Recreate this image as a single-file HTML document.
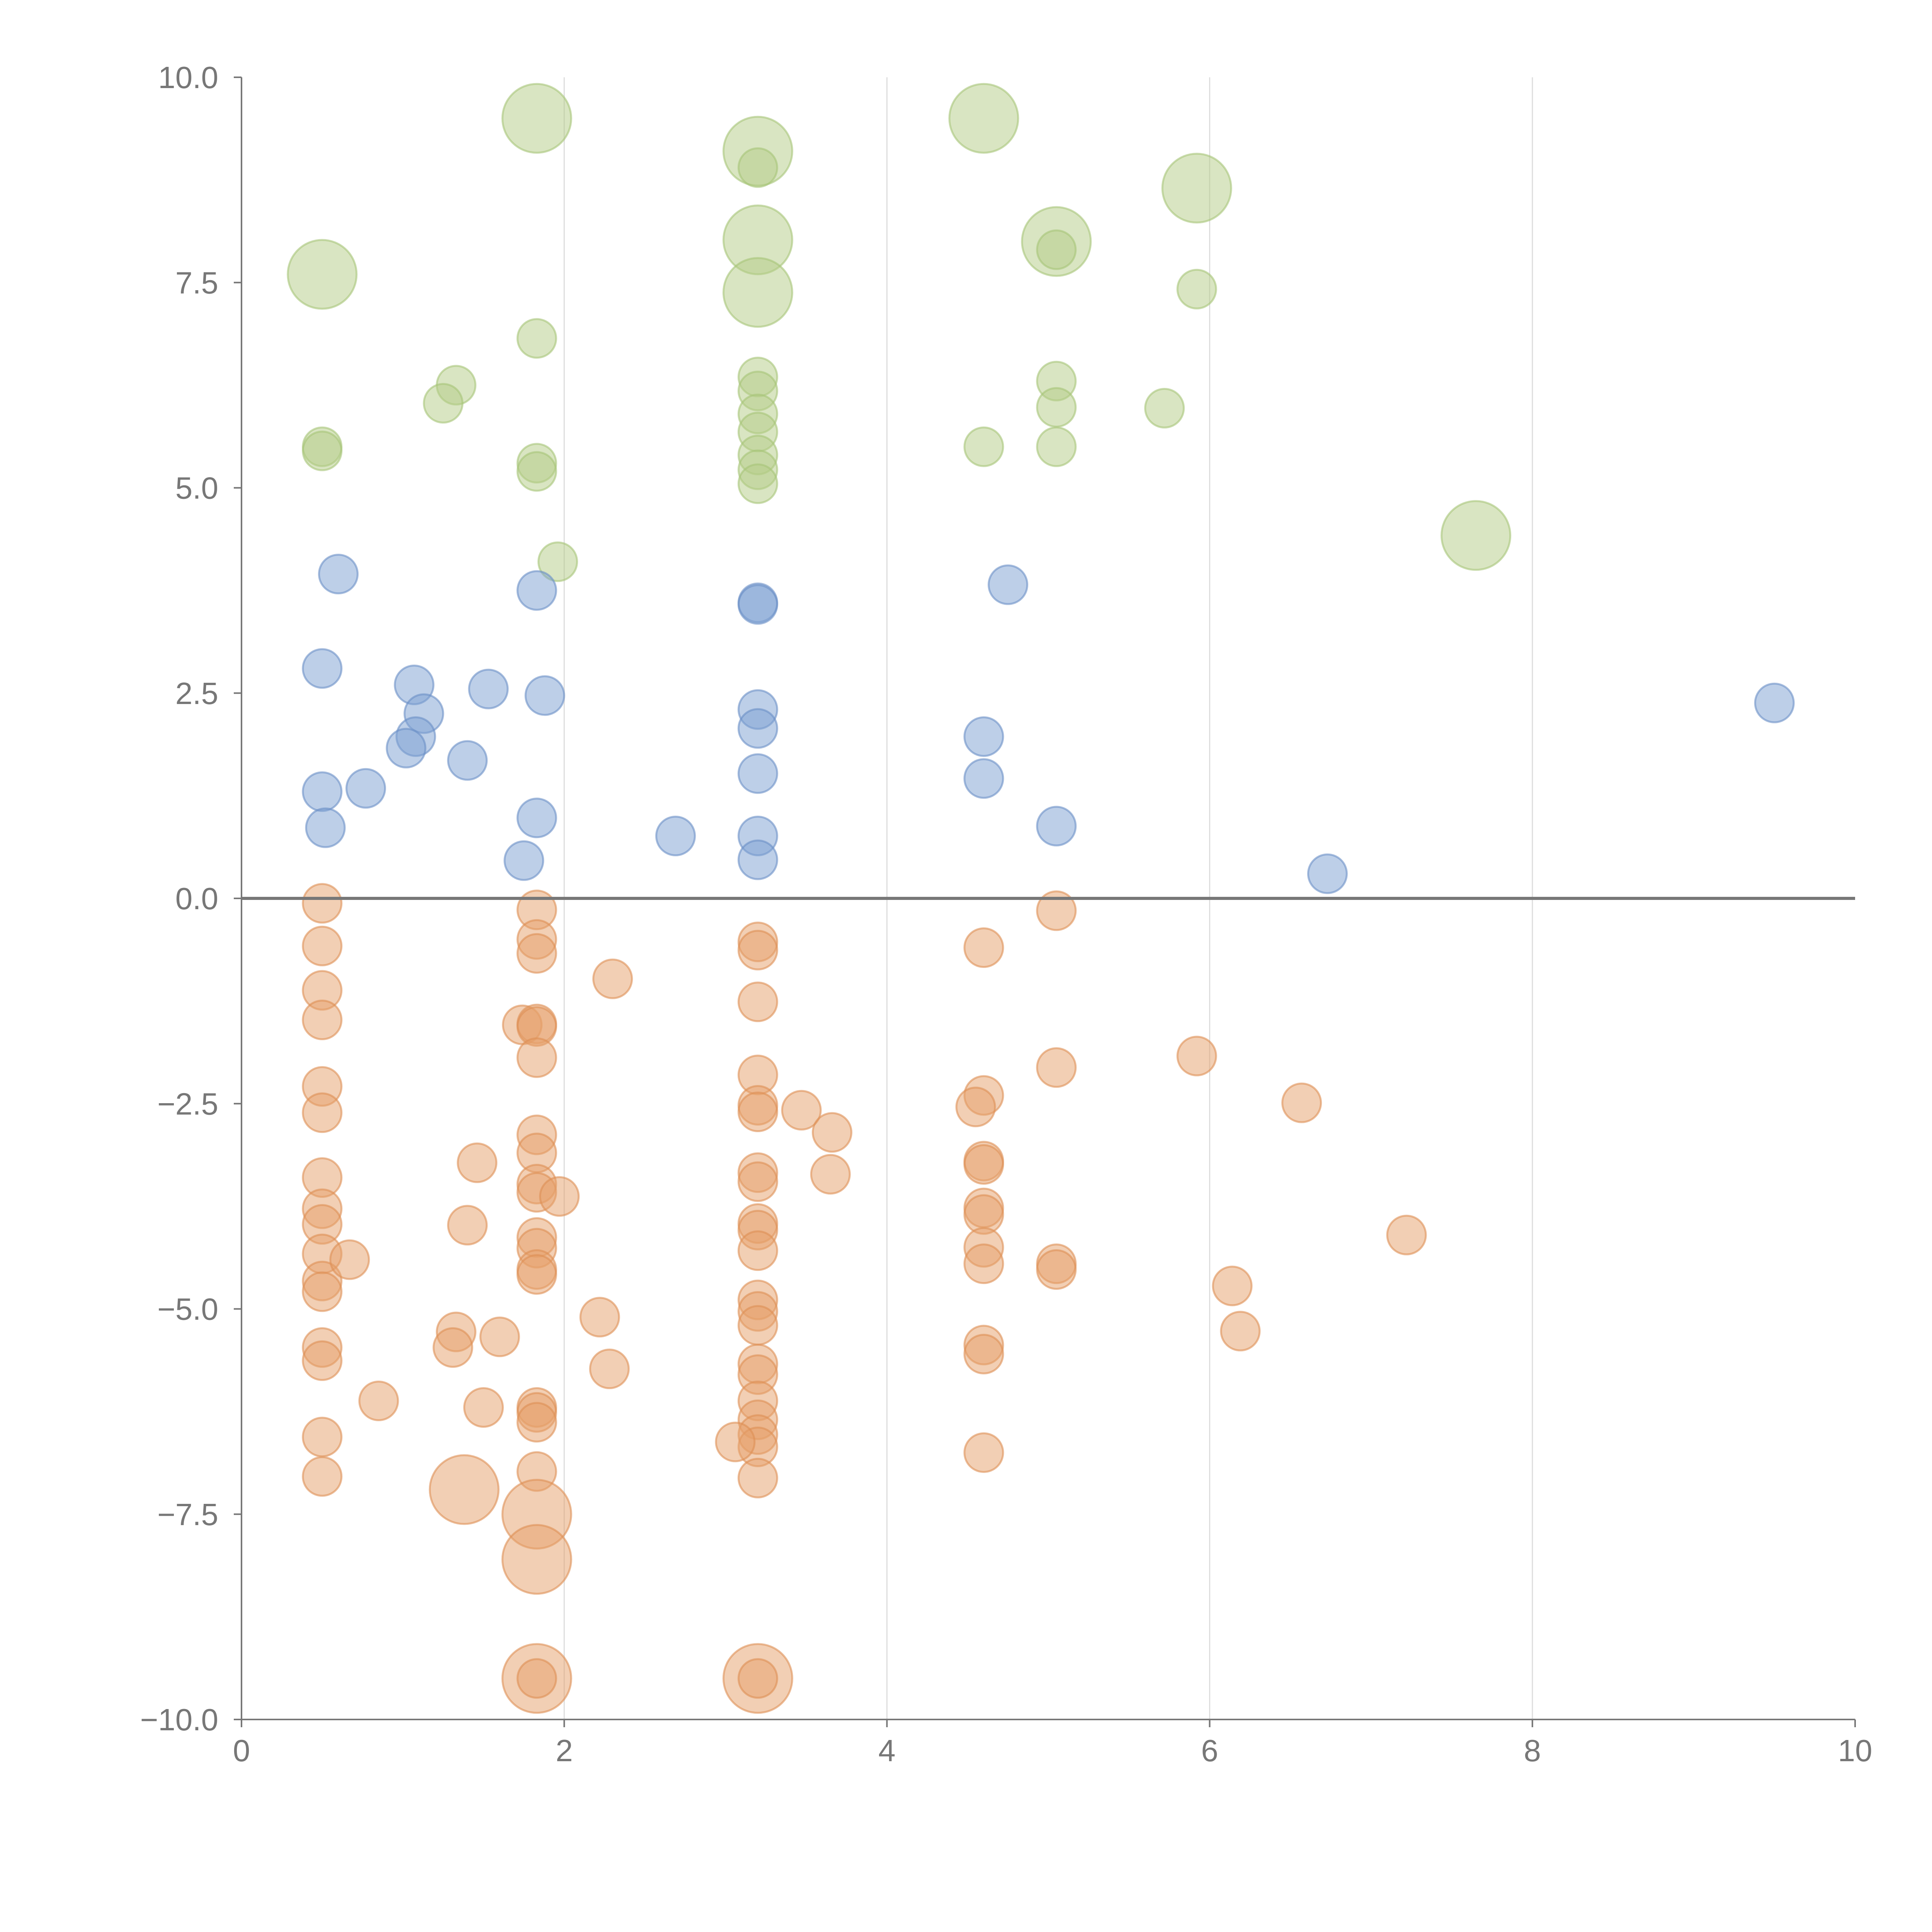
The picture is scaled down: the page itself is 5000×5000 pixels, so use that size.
<!DOCTYPE html>
<html><head><meta charset="utf-8"><style>
html,body{margin:0;padding:0;background:#fff;}
svg{display:block;font-family:"Liberation Sans",sans-serif;}
</style></head><body>
<svg id="chart" width="5000" height="5000" viewBox="0 0 5000 5000" xmlns="http://www.w3.org/2000/svg">
<g id="grid"></g>
<g id="marks"></g>
<g id="axes"></g>
</svg>
<script>
const xTicks=[0,2,4,6,8,10];
const xTickLabels=["0","2","4","6","8","10"];
const yTicks=[10,7.5,5,2.5,0,-2.5,-5,-7.5,-10];
const yTickLabels=["10.0","7.5","5.0","2.5","0.0","\u22122.5","\u22125.0","\u22127.5","\u221210.0"];

const greenX=[1.83,3.2,3.2,4.6,5.92,5.05,5.05,3.2,0.5,3.2,5.92,1.83,1.33,1.25,3.2,3.2,3.2,3.2,3.2,3.2,3.2,5.05,5.05,5.05,5.72,4.6,0.5,0.5,1.83,1.83,1.96,7.65];
const greenY=[9.5,9.1,8.9,9.5,8.65,8.0,7.9,8.02,7.6,7.38,7.42,6.82,6.25,6.03,6.35,6.18,5.9,5.68,5.4,5.22,5.05,6.3,5.98,5.5,5.97,5.5,5.5,5.45,5.3,5.2,4.1,4.42];
const greenS=[2,2,1,2,2,2,1,2,2,2,1,1,1,1,1,1,1,1,1,1,1,1,1,1,1,1,1,1,1,1,1,2];

const blueX=[0.6,1.83,3.2,3.2,4.75,0.5,1.07,1.53,1.88,1.13,1.08,1.02,1.4,0.5,0.77,0.52,1.83,1.75,2.69,3.2,3.2,3.2,3.2,3.2,4.6,4.6,5.05,6.73,9.5];
const blueY=[3.95,3.75,3.6,3.58,3.82,2.8,2.6,2.55,2.47,2.25,1.97,1.83,1.68,1.3,1.34,0.86,0.98,0.46,0.76,2.3,2.07,1.52,0.76,0.47,1.97,1.46,0.88,0.3,2.38];
const blueS=blueX.map(()=>1);

const orangeX=[0.5,0.5,0.5,0.5,0.5,0.5,0.5,0.5,0.5,0.5,0.5,0.5,0.5,0.5,0.5,0.5,
0.67,0.85,1.33,1.31,1.6,1.5,1.4,1.46,1.38,1.74,
1.83,1.83,1.83,1.83,1.83,1.83,1.83,1.83,1.83,1.83,1.83,1.83,1.83,1.83,1.83,1.83,1.83,1.83,1.83,1.83,1.83,1.83,
1.97,2.3,2.22,2.28,
3.2,3.2,3.2,3.2,3.2,3.2,3.2,3.2,3.2,3.2,3.2,3.2,3.2,3.2,3.2,3.2,3.2,3.2,3.2,3.2,3.2,3.2,3.2,
3.06,3.47,3.66,3.65,
4.6,4.6,4.55,4.6,4.6,4.6,4.6,4.6,4.6,4.6,4.6,4.6,
5.05,5.05,5.05,5.05,5.92,6.57,6.14,6.19,7.22];
const orangeY=[-0.06,-0.58,-1.12,-1.48,-2.29,-2.61,-3.4,-3.78,-3.97,-4.33,-4.66,-4.79,-5.47,-5.63,-6.56,-7.04,
-4.4,-6.12,-5.28,-5.47,-5.34,-6.2,-3.98,-3.22,-7.2,-1.54,
-0.14,-0.5,-0.67,-1.53,-1.56,-1.94,-2.88,-3.1,-3.48,-3.58,-4.13,-4.26,-4.52,-4.58,-6.2,-6.26,-6.38,-6.98,-7.5,-8.05,-9.5,-9.5,
-3.63,-0.98,-5.1,-5.73,
-0.53,-0.63,-1.26,-2.15,-2.52,-2.6,-3.34,-3.45,-3.96,-4.04,-4.29,-4.89,-5.03,-5.2,-5.67,-5.8,-6.12,-6.35,-6.53,-6.68,-7.06,-9.5,-9.5,
-6.62,-2.58,-2.85,-3.36,
-0.6,-2.4,-2.54,-3.2,-3.24,-3.77,-3.85,-4.25,-4.45,-5.44,-5.55,-6.75,
-0.15,-2.06,-4.45,-4.52,-1.92,-2.49,-4.72,-5.27,-4.1];
const orangeS=[1,1,1,1,1,1,1,1,1,1,1,1,1,1,1,1,
1,1,1,1,1,1,1,1,2,1,
1,1,1,1,1,1,1,1,1,1,1,1,1,1,1,1,1,1,2,2,2,1,
1,1,1,1,
1,1,1,1,1,1,1,1,1,1,1,1,1,1,1,1,1,1,1,1,1,2,1,
1,1,1,1,
1,1,1,1,1,1,1,1,1,1,1,1,
1,1,1,1,1,1,1,1,1];

const L=625,R=4801,T=200,B=4450;
const sx=v=>L+(v-0)/(10-0)*(R-L);
const sy=v=>B-(v+10)/20*(B-T);
const NS="http://www.w3.org/2000/svg";
function mk(tag,attrs,parent){const e=document.createElementNS(NS,tag);for(const k in attrs)e.setAttribute(k,attrs[k]);parent.appendChild(e);return e;}
const grid=document.getElementById('grid'),marks=document.getElementById('marks'),axes=document.getElementById('axes');

xTicks.forEach((t,i)=>{
  if(t>0&&t<10){const g=mk('line',{x1:sx(t),x2:sx(t),y1:T,y2:B,stroke:'#dddddd','stroke-width':3},grid);
  
  }
  const tk=mk('line',{x1:sx(t),x2:sx(t),y1:B,y2:B+20,stroke:'#777','stroke-width':4},axes);
  
  
  const lb=mk('text',{x:sx(t),y:B+108,'text-anchor':'middle','font-size':80,fill:'#777'},axes);
  lb.textContent=xTickLabels[i];
  
  
});
yTicks.forEach((t,i)=>{
  const tk=mk('line',{x1:L-20,x2:L,y1:sy(t),y2:sy(t),stroke:'#777','stroke-width':4},axes);
  
  
  const lb=mk('text',{x:L-60,y:sy(t)+28,'text-anchor':'end','font-size':80,fill:'#777'},axes);
  lb.textContent=yTickLabels[i];
  
  
});
const ya=mk('line',{x1:L,x2:L,y1:T,y2:B,stroke:'#777','stroke-width':4},axes);


const xa=mk('line',{x1:L,x2:R,y1:B,y2:B,stroke:'#777','stroke-width':4},axes);


const zl=mk('line',{x1:L,x2:R,y1:sy(0),y2:sy(0),stroke:'#777','stroke-width':8},axes);



function series(xs,ys,ss,fill,stroke,name){
  xs.forEach((x,i)=>{
    const r=ss[i]===2?89:50;
    const c=mk('circle',{cx:sx(x),cy:sy(ys[i]),r:r,fill:fill,'fill-opacity':0.5,stroke:stroke,'stroke-opacity':0.6,'stroke-width':5},marks);
    
    
  });
}
series(greenX,greenY,greenS,'#b3cc85','#a6c478','green-bubble');
series(blueX,blueY,blueS,'#7c9fd2','#6a8fc7','blue-bubble');
series(orangeX,orangeY,orangeS,'#e6a06a','#dd9055','orange-bubble');
</script>
</body></html>
